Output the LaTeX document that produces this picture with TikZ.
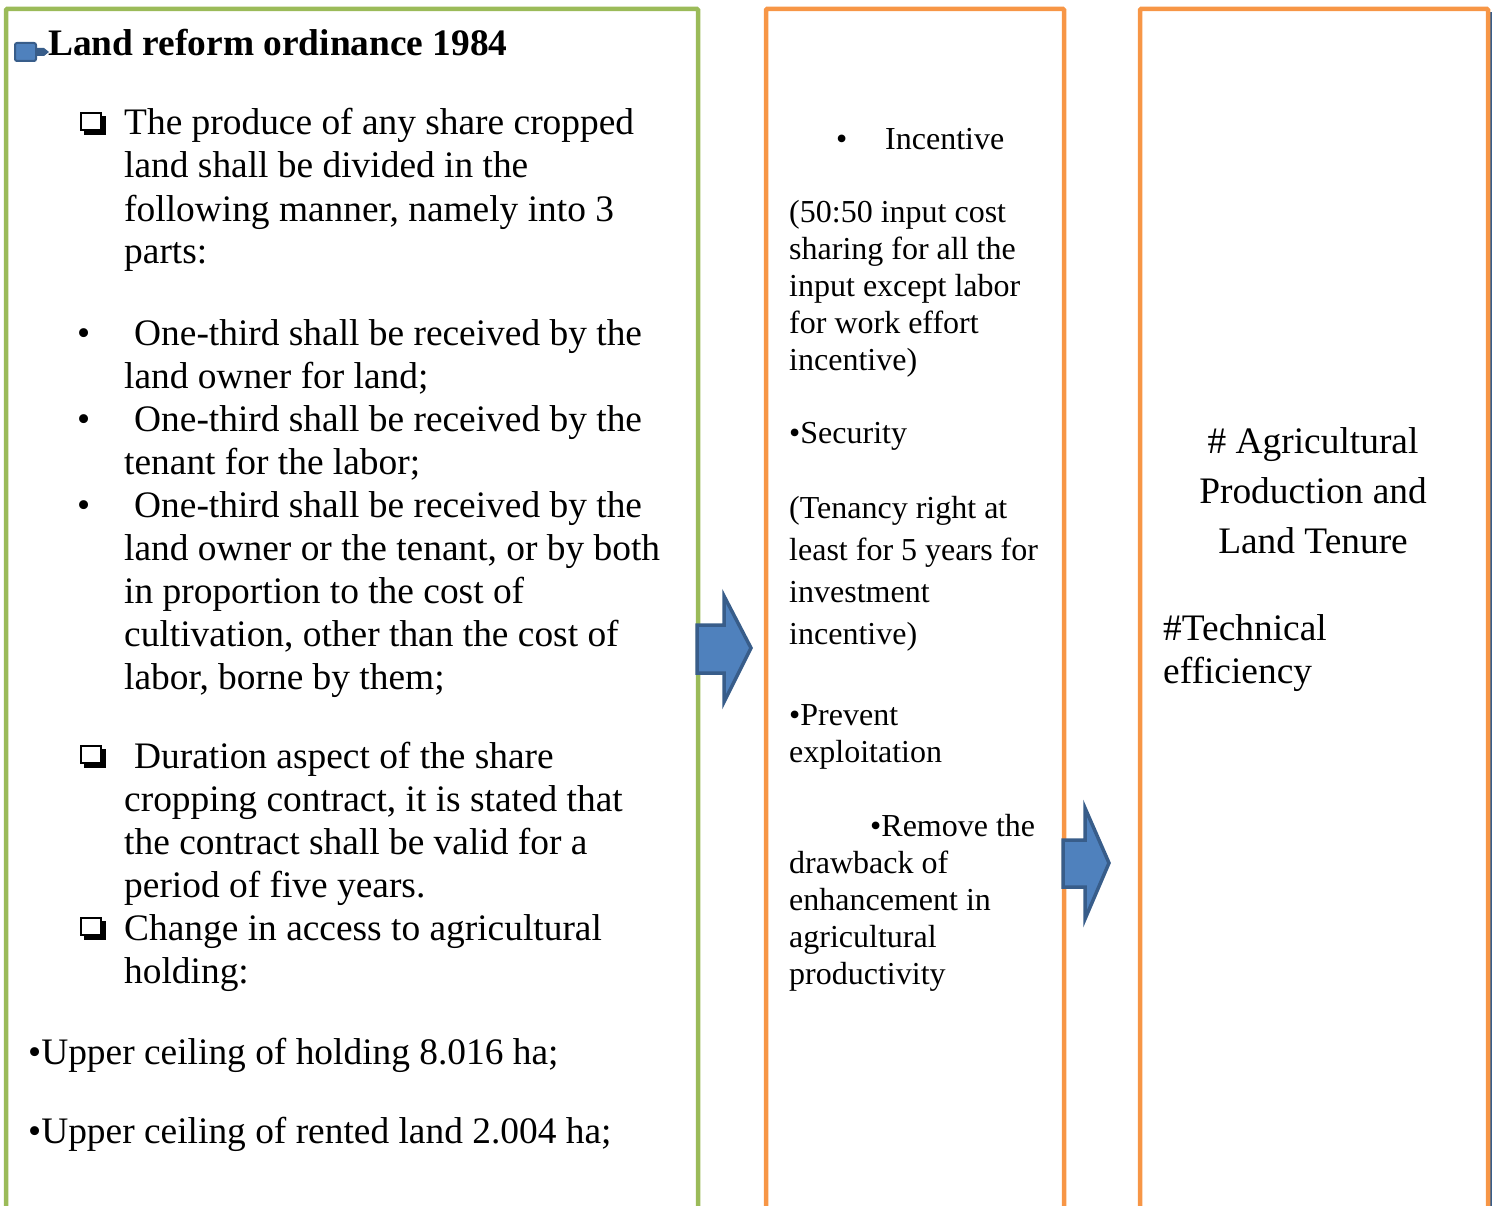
\documentclass[tikz,border=0pt]{standalone}
\usepackage{fontspec}
\setmainfont{Liberation Serif}
\definecolor{boxgreen}{RGB}{155,187,89}
\definecolor{boxorange}{RGB}{247,150,70}
\definecolor{arrowfill}{RGB}{79,129,189}
\definecolor{arrowedge}{RGB}{56,93,138}
\tikzset{
  bigtxt/.style={anchor=base west, inner sep=0pt, align=left, font=\fontsize{37.4}{43}\selectfont},
  midtxt/.style={anchor=base west, inner sep=0pt, align=left, font=\fontsize{32}{37}\selectfont},
  frame/.style={line width=4.5pt, rounded corners=1pt},
  blockarrow/.style={draw=arrowedge, fill=arrowfill, line width=3.5pt, line join=miter}
}
\begin{document}
\begin{tikzpicture}[x=1pt,y=-1pt]
\useasboundingbox (0,0) rectangle (1498,1206);
\draw[frame, boxgreen] (6,1215) -- (6,9) -- (698,9) -- (698,1215);
\draw[frame, boxorange] (766,1215) -- (766,9) -- (1064,9) -- (1064,1215);
\draw[arrowedge, line width=1.5pt] (1491,1215) -- (1491,12);
\draw[frame, boxorange] (1140,1215) -- (1140,9) -- (1488,9) -- (1488,1215);
\draw[blockarrow] (697,625) -- (724,625) -- (724,596) -- (751,648) -- (724,702) -- (724,673) -- (697,673) -- cycle;
\draw[blockarrow] (1063,840) -- (1085,840) -- (1085,808) -- (1109,863) -- (1085,919) -- (1085,887) -- (1063,887) -- cycle;
\draw[arrowedge, fill=arrowfill, line width=2pt, rounded corners=2pt] (15,43) rectangle (36,61);
\fill[arrowedge] (36,48) -- (44,48) -- (49,52) -- (44,56) -- (36,56) -- cycle;
\foreach \y in {135,768,940} {
  \fill (84,\y-19) rectangle (106,\y);
  \filldraw[fill=white, line width=2pt] (81,\y-22) rectangle (101,\y-5);
}
\foreach \y in {345,431,517}
  \node[bigtxt] at (77,\y) {•};
% multi-line nodes sit on the baseline of their last line
\node[bigtxt, font=\fontsize{37.4}{43}\selectfont\bfseries] (title) at (48,56) {Land reform ordinance 1984};
\node[bigtxt] (produce) at (124,264) {The produce of any share cropped\\land shall be divided in the\\following manner, namely into 3\\parts:};
\node[bigtxt] (thirds) at (124,689) {\hspace{10pt}One-third shall be received by the\\land owner for land;\\\hspace{10pt}One-third shall be received by the\\tenant for the labor;\\\hspace{10pt}One-third shall be received by the\\land owner or the tenant, or by both\\in proportion to the cost of\\cultivation, other than the cost of\\labor, borne by them;};
\node[bigtxt] (duration) at (124,983) {\hspace{10pt}Duration aspect of the share\\cropping contract, it is stated that\\the contract shall be valid for a\\period of five years.\\Change in access to agricultural\\holding:};
\node[bigtxt] (holding) at (28,1064) {•Upper ceiling of holding 8.016 ha;};
\node[bigtxt] (rented) at (28,1143) {•Upper ceiling of rented land 2.004 ha;};
\node[midtxt] (dot) at (836,150) {•};
\node[midtxt] (incentive) at (885,150) {Incentive};
\node[midtxt] (sharing) at (789,370) {(50:50 input cost\\sharing for all the\\input except labor\\for work effort\\incentive)};
\node[midtxt] (security) at (789,443) {•Security};
\node[midtxt, font=\fontsize{32}{42}\selectfont] (tenancy) at (789,644) {(Tenancy right at\\least for 5 years for\\investment\\incentive)};
\node[midtxt] (prevent) at (789,762) {•Prevent\\exploitation};
\node[midtxt] (remove) at (789,984) {\hspace{81pt}•Remove the\\drawback of\\enhancement in\\agricultural\\productivity};
\node[bigtxt, anchor=base, align=center, font=\fontsize{37.4}{50}\selectfont] (tenure) at (1313,553) {\# Agricultural\\Production and\\Land Tenure};
\node[bigtxt] (efficiency) at (1163,683) {\#Technical\\efficiency};
\end{tikzpicture}
\end{document}
